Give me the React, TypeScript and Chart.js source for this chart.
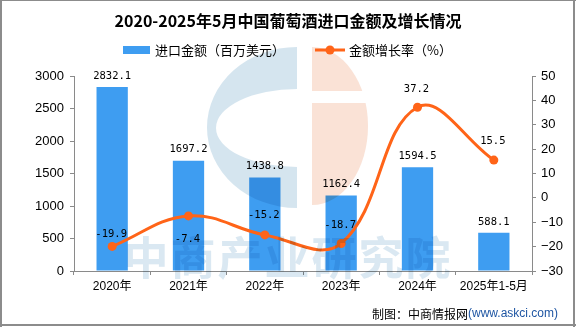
import React, { useEffect, useRef } from 'react';
import { Chart, registerables } from 'chart.js';

Chart.register(...registerables);

const categories = ['2020年', '2021年', '2022年', '2023年', '2024年', '2025年1-5月'];
const importValues = [2832.1, 1697.2, 1438.8, 1162.4, 1594.5, 588.1];
const growthRates = [-19.9, -7.4, -15.2, -18.7, 37.2, 15.5];

const titleText = '2020-2025年5月中国葡萄酒进口金额及增长情况';
const barLegend = '进口金额（百万美元）';
const lineLegend = '金额增长率（%）';
const footerMain = '制图：中商情报网';
const footerSite = '(www.askci.com)';
const watermarkText = '中商产业研究院';

const BAR_COLOR = '#3e9df1';
const LINE_COLOR = '#ff6418';
const AXIS_COLOR = '#8a8a8a';
const CJK = "'Noto Sans CJK SC', sans-serif";
const LABEL_FONT = "10.5px 'DejaVu Sans Mono', monospace";
// label vertical offsets for line points (style only)
const lineLabelDy = [-12, 23, -20, -18, -18, -19];

const overlayPlugin = {
  id: 'overlay',
  beforeDraw(chart: any) {
    const { ctx, width, height } = chart;
    ctx.save();
    ctx.fillStyle = '#ffffff';
    ctx.fillRect(0, 0, width, height);
    ctx.restore();
  },
  afterDatasetsDraw(chart: any) {
    const { ctx } = chart;
    ctx.save();
    ctx.font = LABEL_FONT;
    ctx.fillStyle = '#000';
    ctx.textAlign = 'center';
    ctx.textBaseline = 'middle';
    const barMeta = chart.getDatasetMeta(0);
    barMeta.data.forEach((el: any, i: number) => {
      ctx.fillText(importValues[i].toFixed(1), el.x, el.y - 11);
    });
    const lineMeta = chart.getDatasetMeta(1);
    lineMeta.data.forEach((el: any, i: number) => {
      ctx.fillText(growthRates[i].toFixed(1), el.x - 1, el.y + lineLabelDy[i]);
    });
    ctx.restore();
  },
  afterDraw(chart: any) {
    const { ctx, width, height } = chart;
    // watermark (multiply)
    ctx.save();
    ctx.globalCompositeOperation = 'multiply';
    ctx.fillStyle = 'rgb(213,229,239)';
    ctx.beginPath();
    ctx.moveTo(297, 47);
    ctx.ellipse(297, 127.5, 90, 80.5, 0, -Math.PI / 2, Math.PI / 2, true);
    ctx.lineTo(297, 167);
    ctx.ellipse(297, 128, 81, 39, 0, Math.PI / 2, (3 * Math.PI) / 2, false);
    ctx.closePath();
    ctx.fill();
    ctx.save();
    ctx.beginPath();
    ctx.rect(0, 0, width, 91);
    ctx.rect(0, 103, width, height);
    ctx.clip();
    ctx.fillStyle = 'rgb(250,226,214)';
    ctx.beginPath();
    ctx.moveTo(312, 47);
    ctx.ellipse(312, 126, 56, 79, 0, -Math.PI / 2, Math.PI / 2, false);
    ctx.closePath();
    ctx.fill();
    ctx.restore();
    ctx.fillStyle = 'rgb(218,232,242)';
    ctx.font = `bold 45px ${CJK}`;
    ctx.textAlign = 'center';
    ctx.textBaseline = 'middle';
    (ctx as any).letterSpacing = '2px';
    ctx.fillText(watermarkText, 288, 258);
    ctx.restore();

    ctx.save();
    // title
    ctx.fillStyle = '#000';
    ctx.font = `bold 16px ${CJK}`;
    ctx.textAlign = 'center';
    ctx.textBaseline = 'middle';
    ctx.fillText(titleText, 288, 21);
    // legend
    ctx.fillStyle = BAR_COLOR;
    ctx.fillRect(123, 46, 27, 8);
    ctx.fillStyle = '#000';
    ctx.font = `13px ${CJK}`;
    ctx.textAlign = 'left';
    ctx.fillText(barLegend, 155, 50);
    ctx.strokeStyle = LINE_COLOR;
    ctx.lineWidth = 3;
    ctx.beginPath();
    ctx.moveTo(315, 50);
    ctx.lineTo(345, 50);
    ctx.stroke();
    ctx.fillStyle = LINE_COLOR;
    ctx.beginPath();
    ctx.arc(330, 50, 4.5, 0, Math.PI * 2);
    ctx.fill();
    ctx.fillStyle = '#000';
    ctx.fillText(lineLegend, 349, 50);
    // footer
    ctx.textAlign = 'right';
    ctx.font = "12px 'Liberation Sans', sans-serif";
    ctx.fillStyle = '#1f56a3';
    ctx.fillText(footerSite, 558, 314);
    const w = ctx.measureText(footerSite).width;
    ctx.font = `12px ${CJK}`;
    ctx.fillStyle = '#000';
    ctx.fillText(footerMain, 558 - w, 314);
    // border
    ctx.fillStyle = '#8c8c8c';
    ctx.fillRect(0, 0, 2, height);
    ctx.fillRect(0, 0, width, 1);
    ctx.fillRect(573, 0, 2, height);
    ctx.fillRect(0, 324, width, 2);
    ctx.restore();
  },
};

export default function App() {
  const ref = useRef<HTMLCanvasElement>(null);
  useEffect(() => {
    if (!ref.current) return;
    const tickFont = { family: "'Liberation Sans', 'Noto Sans CJK SC', sans-serif", size: 13 };
    const chart = new Chart(ref.current, {
      type: 'bar',
      data: {
        labels: categories,
        datasets: [
          {
            type: 'bar',
            label: barLegend,
            data: importValues,
            backgroundColor: BAR_COLOR,
            yAxisID: 'y',
            barPercentage: 0.41,
            categoryPercentage: 1,
            order: 1,
          },
          {
            type: 'line',
            label: lineLegend,
            data: growthRates,
            borderColor: LINE_COLOR,
            backgroundColor: LINE_COLOR,
            borderWidth: 3,
            pointRadius: 4.5,
            pointBorderWidth: 0,
            pointBackgroundColor: LINE_COLOR,
            tension: 0.4,
            yAxisID: 'y1',
            order: 0,
          },
        ],
      } as any,
      options: {
        responsive: false,
        animation: false,
        devicePixelRatio: 1,
        layout: { padding: { top: 76, left: 0, right: 0, bottom: 0 } },
        plugins: { legend: { display: false }, tooltip: { enabled: false }, title: { display: false } },
        scales: {
          x: {
            grid: { display: true, drawOnChartArea: false, tickLength: 4, color: AXIS_COLOR, offset: true },
            border: { display: true, color: AXIS_COLOR },
            ticks: { color: '#000', font: { family: "'Liberation Sans', 'Noto Sans CJK SC', sans-serif", size: 12 }, padding: 4, maxRotation: 0, autoSkip: false },
            afterFit: (s: any) => { s.height = 56; },
          },
          y: {
            position: 'left',
            min: 0,
            max: 3000,
            grid: { display: true, drawOnChartArea: false, tickLength: 4, color: AXIS_COLOR },
            border: { display: true, color: AXIS_COLOR },
            ticks: { stepSize: 500, color: '#000', font: tickFont, padding: 6, callback: (v: any) => String(v) },
            afterFit: (s: any) => { s.width = 74; },
          },
          y1: {
            position: 'right',
            min: -30,
            max: 50,
            grid: { display: true, drawOnChartArea: false, tickLength: 4, color: AXIS_COLOR },
            border: { display: true, color: AXIS_COLOR },
            ticks: {
              stepSize: 10,
              color: '#000',
              font: tickFont,
              padding: 5,
              callback: (v: any) => String(v).replace('-', '−'),
            },
            afterFit: (s: any) => { s.width = 44; },
          },
        },
      } as any,
      plugins: [overlayPlugin],
    });
    return () => chart.destroy();
  }, []);
  return (
    <div style={{ position: 'absolute', left: 0, top: 0, width: 576, height: 327 }}>
      <canvas ref={ref} width={576} height={327} style={{ width: 576, height: 327, display: 'block' }} />
    </div>
  );
}
